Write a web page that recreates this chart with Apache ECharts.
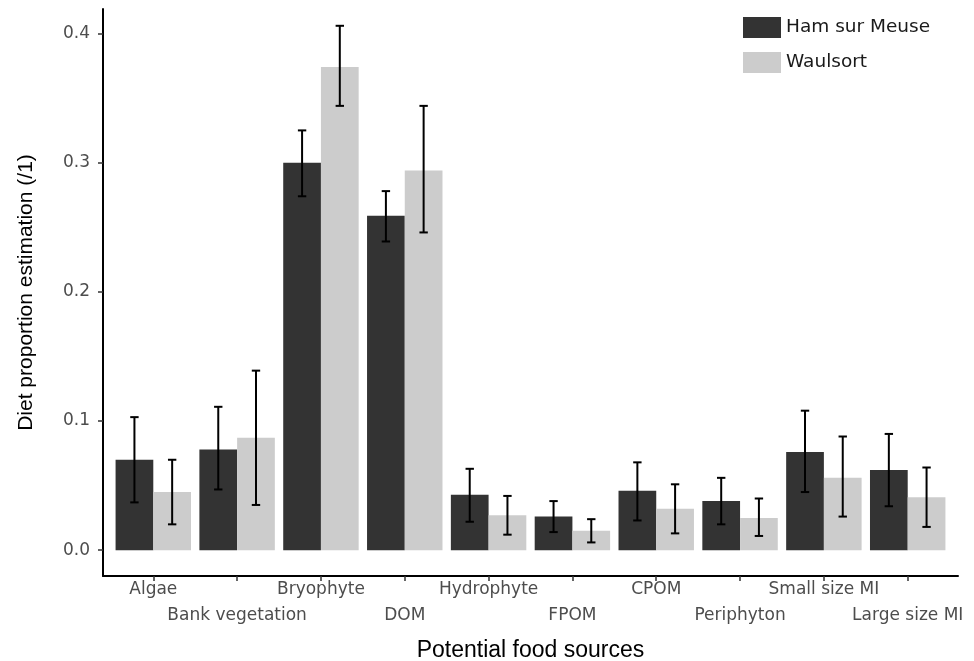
<!DOCTYPE html>
<html>
<head>
<meta charset="utf-8">
<script src="https://cdn.jsdelivr.net/npm/echarts@6/dist/echarts.min.js"></script>
<style>
html,body{margin:0;padding:0;background:#fff;}
#chart{width:974px;height:661px;}
</style>
</head>
<body>
<div id="chart"></div>
<script>
const categories = ['Algae','Bank vegetation','Bryophyte','DOM','Hydrophyte','FPOM','CPOM','Periphyton','Small size MI','Large size MI'];
const hamMean  = [0.070,0.078,0.300,0.259,0.043,0.026,0.046,0.038,0.076,0.062];
const hamLow   = [0.037,0.047,0.274,0.239,0.022,0.014,0.023,0.020,0.045,0.034];
const hamHigh  = [0.103,0.111,0.325,0.278,0.063,0.038,0.068,0.056,0.108,0.090];
const waulMean = [0.045,0.087,0.374,0.294,0.027,0.015,0.032,0.025,0.056,0.041];
const waulLow  = [0.020,0.035,0.344,0.246,0.012,0.006,0.013,0.011,0.026,0.018];
const waulHigh = [0.070,0.139,0.406,0.344,0.042,0.024,0.051,0.040,0.088,0.064];
const yTicks = [0, 0.1, 0.2, 0.3, 0.4];
const seriesNames = ['Ham sur Meuse', 'Waulsort'];

const catPos = categories.map((c, i) => i + 1);

function makeRender(offset, color) {
  return function (params, api) {
    const x = api.value(0), m = api.value(1), lo = api.value(2), hi = api.value(3);
    const tl = api.coord([x + offset - 0.225, m]);
    const br = api.coord([x + offset + 0.225, 0]);
    const cLo = api.coord([x + offset, lo]);
    const cHi = api.coord([x + offset, hi]);
    const capL = api.coord([x + offset - 0.05, hi])[0];
    const capR = api.coord([x + offset + 0.05, hi])[0];
    const ls = { stroke: '#000', lineWidth: 2 };
    return {
      type: 'group',
      children: [
        { type: 'rect', shape: { x: tl[0], y: tl[1], width: br[0] - tl[0], height: br[1] - tl[1] }, style: { fill: color } },
        { type: 'line', shape: { x1: cLo[0], y1: cLo[1], x2: cHi[0], y2: cHi[1] }, style: ls },
        { type: 'line', shape: { x1: capL, y1: cHi[1], x2: capR, y2: cHi[1] }, style: ls },
        { type: 'line', shape: { x1: capL, y1: cLo[1], x2: capR, y2: cLo[1] }, style: ls }
      ]
    };
  };
}

const hamData = catPos.map((x, i) => [x, hamMean[i], hamLow[i], hamHigh[i]]);
const waulData = catPos.map((x, i) => [x, waulMean[i], waulLow[i], waulHigh[i]]);

// value x-axis: 0.4 .. 10.6 ; category band axis covers 0.5 .. 10.5
const gLeft = 103, gRight = 16, xMin = 0.4, xMax = 10.6;
const unitPx = (974 - gLeft - gRight) / (xMax - xMin);
const catLeft = gLeft + (0.5 - xMin) * unitPx;
const catRight = gRight + (xMax - 10.5) * unitPx;

const chart = echarts.init(document.getElementById('chart'), null, { renderer: 'canvas' });
chart.setOption({
  animation: false,
  backgroundColor: '#ffffff',
  grid: [
    { left: gLeft, right: gRight, top: 9, bottom: 85, containLabel: false, outerBoundsMode: 'none' },
    { left: catLeft, right: catRight, top: 9, bottom: 85, containLabel: false, outerBoundsMode: 'none' }
  ],
  legend: {
    orient: 'vertical',
    left: 738, top: 12,
    itemWidth: 38, itemHeight: 21, itemGap: 14,
    icon: 'rect',
    data: seriesNames,
    textStyle: { fontFamily: 'DejaVu Sans', fontSize: 18.5, color: '#1a1a1a' }
  },
  xAxis: [
    {
      type: 'value', gridIndex: 0,
      min: xMin, max: xMax,
      splitLine: { show: false },
      axisLine: { show: true, onZero: false, lineStyle: { color: '#000', width: 2 } },
      axisTick: { show: false },
      axisLabel: { show: false },
      name: 'Potential food sources',
      nameLocation: 'middle', nameGap: 63,
      nameTextStyle: { fontFamily: 'Liberation Sans', fontSize: 23, color: '#000' }
    },
    {
      type: 'category', gridIndex: 1,
      data: categories,
      boundaryGap: true,
      splitLine: { show: false },
      axisLine: { show: false, onZero: false },
      axisTick: { show: true, alignWithLabel: true, interval: 0, length: 5, lineStyle: { color: '#333', width: 1.5 } },
      axisLabel: {
        interval: 0,
        margin: 1,
        fontFamily: 'DejaVu Sans', fontSize: 17, color: '#4d4d4d', lineHeight: 26,
        formatter: function (v, i) {
          return i % 2 === 0 ? v : '\n' + v;
        }
      }
    }
  ],
  yAxis: [
    {
      type: 'value', gridIndex: 0,
      min: -0.02, max: 0.419,
      splitLine: { show: false },
      axisLine: { show: true, onZero: false, lineStyle: { color: '#000', width: 2 } },
      axisTick: { show: true, length: 5, customValues: yTicks, lineStyle: { color: '#333', width: 1.5 } },
      axisLabel: {
        customValues: yTicks,
        margin: 13,
        fontFamily: 'DejaVu Sans', fontSize: 17, color: '#4d4d4d',
        formatter: function (v) { return v.toFixed(1); }
      },
      name: 'Diet proportion estimation (/1)',
      nameLocation: 'middle', nameGap: 66, nameRotate: 90,
      nameTextStyle: { fontFamily: 'Liberation Sans', fontSize: 21, color: '#000' }
    },
    {
      type: 'value', gridIndex: 1, min: 0, max: 1, show: false
    }
  ],
  series: [
    { name: seriesNames[0], type: 'custom', xAxisIndex: 0, yAxisIndex: 0, data: hamData, encode: { x: 0, y: 1 },
      itemStyle: { color: '#333333' }, renderItem: makeRender(-0.225, '#333333') },
    { name: seriesNames[1], type: 'custom', xAxisIndex: 0, yAxisIndex: 0, data: waulData, encode: { x: 0, y: 1 },
      itemStyle: { color: '#cccccc' }, renderItem: makeRender(0.225, '#cccccc') }
  ]
});
</script>
</body>
</html>
